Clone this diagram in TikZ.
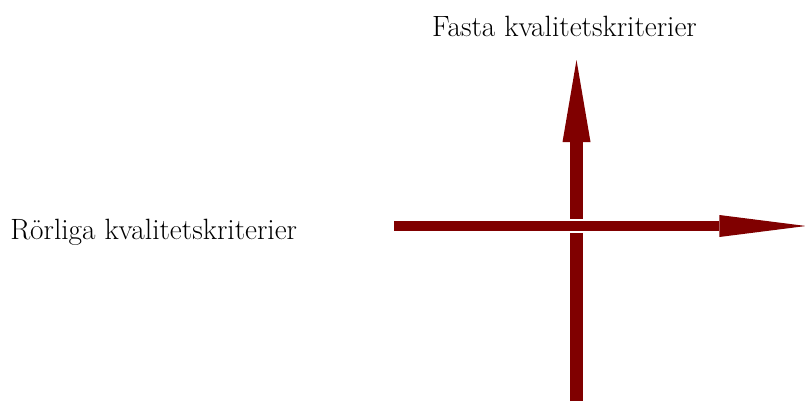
\documentclass[tikz,border=0pt]{standalone}
\usepackage{tikz}
\usepackage{xcolor}
\usetikzlibrary{arrows.meta,calc,positioning}
\definecolor{Maroon}{HTML}{800000}

\begin{document}
\begin{tikzpicture}[x=0.75pt, y=0.75pt,
    axislabel/.style={inner sep=0pt, font=\fontsize{22}{26}\selectfont}]
    % Frame (805 x 401 px)
    \useasboundingbox (0,0) rectangle (805,401);

    % Axis end points
    \coordinate (fastlow)  at (576.5,0);
    \coordinate (fasthigh) at (576.5,341);
    \coordinate (rorlow)   at (394,175);
    \coordinate (rorhigh)  at (806,175);

    % Vertical axis: fasta kriterier
    \draw[Maroon, line width=9.75pt,
          -{Triangle[length=61.5pt, width=21pt, line width=0pt]}] (fastlow) -- (fasthigh);

    % Horizontal axis: roerliga kriterier (white gap at crossing)
    \draw[Maroon, line width=7.5pt,
          preaction={draw=white, line width=10.5pt, arrows=-},
          -{Triangle[length=65pt, width=16.5pt, line width=0pt]}] (rorlow) -- (rorhigh);

    % Labels
    \node[axislabel, anchor=base] (fasta) at (564.5,364) {Fasta kvalitetskriterier};
    \node[axislabel, anchor=base west] (rorliga) at (10,162) {Rörliga kvalitetskriterier};

\end{tikzpicture}
\end{document}
